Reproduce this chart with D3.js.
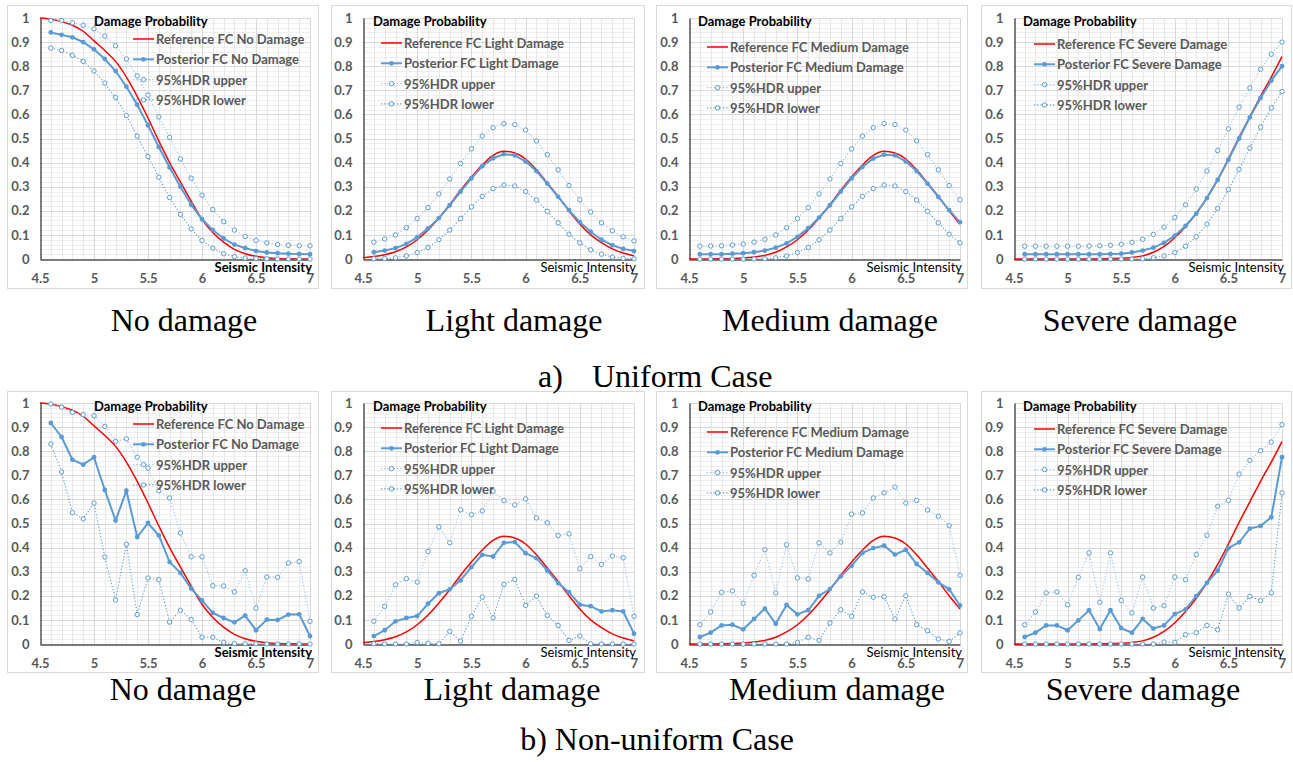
<!DOCTYPE html>
<html>
<head>
<meta charset="utf-8">
<script src="https://cdn.jsdelivr.net/npm/d3@7"></script>
<style>
  body { margin: 0; background: #fff; }
  svg { display: block; }
</style>
</head>
<body>
<svg id="chart" width="1293" height="762"></svg>
<script>
/* Data */
// x values of the posterior / HDR points
const intensity = [4.6, 4.7, 4.8, 4.9, 5.0, 5.1, 5.2, 5.3, 5.4, 5.5, 5.6, 5.7, 5.8, 5.9,
  6.0, 6.1, 6.2, 6.3, 6.4, 6.5, 6.6, 6.7, 6.8, 6.9, 7.0];
// x values of the reference fragility curves
const refIntensity = [4.5, 4.6, 4.7, 4.8, 4.9, 5.0, 5.1, 5.2, 5.3, 5.4, 5.5, 5.6, 5.7, 5.8, 5.9,
  6.0, 6.1, 6.2, 6.3, 6.4, 6.5, 6.6, 6.7, 6.8, 6.9, 7.0];
const xTicks = [4.5, 5, 5.5, 6, 6.5, 7];
const yTicks = [0, 0.1, 0.2, 0.3, 0.4, 0.5, 0.6, 0.7, 0.8, 0.9, 1];

// Reference FC (same in both cases)
const refNo = [1.0, 0.995, 0.985, 0.97, 0.945, 0.905, 0.865, 0.82, 0.755, 0.675, 0.585, 0.49, 0.40,
  0.32, 0.24, 0.165, 0.11, 0.07, 0.04, 0.022, 0.011, 0.005, 0.002, 0.001, 0, 0];
const refLight = [0.005, 0.01, 0.018, 0.03, 0.05, 0.08, 0.12, 0.17, 0.225, 0.285, 0.34, 0.39, 0.43,
  0.447, 0.44, 0.415, 0.37, 0.315, 0.26, 0.2, 0.145, 0.1, 0.068, 0.042, 0.025, 0.013];
const refMedium = [0, 0, 0, 0.001, 0.002, 0.004, 0.008, 0.015, 0.028, 0.05, 0.08, 0.12, 0.17,
  0.225, 0.285, 0.34, 0.39, 0.43, 0.447, 0.44, 0.415, 0.37, 0.315, 0.26, 0.2, 0.145];
const refSevere = [0, 0, 0, 0, 0, 0, 0, 0, 0.001, 0.002, 0.003, 0.006, 0.013, 0.028, 0.052,
  0.088, 0.135, 0.19, 0.255, 0.33, 0.415, 0.505, 0.59, 0.675, 0.755, 0.84];

// a) Uniform case
const postNoU = [0.94, 0.93, 0.92, 0.9, 0.87, 0.83, 0.78, 0.715, 0.64, 0.555, 0.465, 0.38, 0.3,
  0.225, 0.165, 0.12, 0.085, 0.06, 0.045, 0.033, 0.027, 0.024, 0.022, 0.021, 0.02];
const upperNoU = [0.99, 0.99, 0.98, 0.97, 0.955, 0.925, 0.885, 0.83, 0.76, 0.68, 0.59, 0.505, 0.415,
  0.335, 0.265, 0.205, 0.155, 0.12, 0.093, 0.077, 0.067, 0.06, 0.057, 0.055, 0.055];
const lowerNoU = [0.875, 0.865, 0.845, 0.82, 0.78, 0.73, 0.67, 0.595, 0.51, 0.425, 0.34, 0.255, 0.185,
  0.125, 0.077, 0.045, 0.022, 0.01, 0.004, 0.002, 0.001, 0, 0, 0, 0];

const postLightU = [0.028, 0.035, 0.045, 0.063, 0.09, 0.127, 0.17, 0.223, 0.28, 0.335, 0.385, 0.418,
  0.435, 0.43, 0.405, 0.365, 0.313, 0.258, 0.203, 0.153, 0.113, 0.08, 0.057, 0.042, 0.033];
const upperLightU = [0.07, 0.083, 0.1, 0.13, 0.168, 0.213, 0.27, 0.332, 0.396, 0.457, 0.51, 0.545,
  0.562, 0.558, 0.535, 0.49, 0.433, 0.37, 0.305, 0.246, 0.195, 0.15, 0.117, 0.092, 0.075];
const lowerLightU = [0.001, 0.002, 0.005, 0.013, 0.027, 0.048, 0.08, 0.12, 0.168, 0.216, 0.26, 0.292,
  0.307, 0.303, 0.28, 0.245, 0.198, 0.15, 0.103, 0.067, 0.038, 0.02, 0.008, 0.003, 0.001];

const postMedU = [0.02, 0.02, 0.02, 0.022, 0.024, 0.028, 0.035, 0.047, 0.065, 0.092, 0.128, 0.172,
  0.223, 0.28, 0.335, 0.382, 0.417, 0.433, 0.43, 0.405, 0.365, 0.313, 0.258, 0.203, 0.153];
const upperMedU = [0.053, 0.054, 0.055, 0.058, 0.062, 0.07, 0.082, 0.1, 0.13, 0.168, 0.213, 0.27,
  0.332, 0.396, 0.457, 0.51, 0.545, 0.562, 0.558, 0.535, 0.49, 0.433, 0.37, 0.305, 0.246];
const lowerMedU = [0, 0, 0, 0, 0, 0, 0.001, 0.005, 0.013, 0.027, 0.048, 0.08, 0.12, 0.168, 0.216,
  0.26, 0.292, 0.307, 0.303, 0.28, 0.245, 0.198, 0.15, 0.103, 0.067];

const postSevU = [0.02, 0.02, 0.02, 0.02, 0.02, 0.02, 0.02, 0.02, 0.021, 0.022, 0.027, 0.035, 0.047,
  0.067, 0.097, 0.137, 0.188, 0.253, 0.328, 0.412, 0.5, 0.588, 0.668, 0.74, 0.8];
const upperSevU = [0.053, 0.053, 0.053, 0.053, 0.053, 0.053, 0.054, 0.055, 0.057, 0.061, 0.069, 0.082,
  0.102, 0.132, 0.172, 0.225, 0.29, 0.365, 0.45, 0.54, 0.63, 0.71, 0.787, 0.85, 0.9];
const lowerSevU = [0, 0, 0, 0, 0, 0, 0, 0, 0, 0, 0, 0.001, 0.005, 0.013, 0.027, 0.053, 0.092, 0.145,
  0.21, 0.288, 0.372, 0.46, 0.547, 0.627, 0.695];

// b) Non-uniform case
const postNoN = [0.917, 0.859, 0.765, 0.744, 0.775, 0.639, 0.512, 0.636, 0.444, 0.502, 0.451, 0.34,
  0.295, 0.23, 0.181, 0.129, 0.108, 0.09, 0.118, 0.057, 0.101, 0.1, 0.122, 0.123, 0.033];
const upperNoN = [0.996, 0.983, 0.961, 0.952, 0.947, 0.903, 0.841, 0.851, 0.775, 0.73, 0.636, 0.606,
  0.461, 0.362, 0.362, 0.242, 0.241, 0.216, 0.304, 0.149, 0.278, 0.277, 0.336, 0.342, 0.094];
const lowerNoN = [0.83, 0.714, 0.545, 0.519, 0.585, 0.361, 0.183, 0.414, 0.122, 0.274, 0.267, 0.091,
  0.14, 0.102, 0.028, 0.028, 0.007, 0.002, 0.001, 0.001, 0, 0, 0, 0, 0];

const postLightN = [0.033, 0.057, 0.094, 0.108, 0.116, 0.167, 0.211, 0.227, 0.264, 0.319, 0.37, 0.363,
  0.42, 0.423, 0.377, 0.356, 0.305, 0.253, 0.215, 0.163, 0.157, 0.135, 0.14, 0.135, 0.043];
const upperLightN = [0.094, 0.156, 0.246, 0.271, 0.257, 0.384, 0.486, 0.42, 0.557, 0.537, 0.552, 0.634,
  0.595, 0.577, 0.602, 0.523, 0.503, 0.45, 0.457, 0.312, 0.363, 0.33, 0.365, 0.358, 0.115];
const lowerLightN = [0.001, 0, 0, 0, 0.006, 0.003, 0.001, 0.052, 0.012, 0.115, 0.195, 0.109, 0.247,
  0.268, 0.16, 0.199, 0.119, 0.077, 0.015, 0.033, 0.001, 0, 0, 0, 0];

const postMedN = [0.029, 0.047, 0.077, 0.08, 0.061, 0.104, 0.147, 0.084, 0.162, 0.123, 0.14, 0.2,
  0.228, 0.281, 0.324, 0.378, 0.398, 0.408, 0.371, 0.391, 0.332, 0.295, 0.256, 0.227, 0.16];
const upperMedN = [0.08, 0.133, 0.214, 0.22, 0.169, 0.285, 0.391, 0.212, 0.412, 0.274, 0.27, 0.42,
  0.378, 0.423, 0.539, 0.544, 0.606, 0.627, 0.651, 0.585, 0.596, 0.556, 0.53, 0.491, 0.285];
const lowerMedN = [0, 0, 0, 0, 0, 0, 0, 0, 0, 0.007, 0.028, 0.015, 0.087, 0.142, 0.115, 0.216, 0.194,
  0.196, 0.104, 0.2, 0.08, 0.055, 0.021, 0.011, 0.046];

const postSevN = [0.029, 0.047, 0.077, 0.077, 0.057, 0.098, 0.14, 0.062, 0.14, 0.066, 0.047, 0.104,
  0.064, 0.077, 0.124, 0.144, 0.199, 0.254, 0.304, 0.398, 0.422, 0.479, 0.49, 0.526, 0.775];
const upperSevN = [0.08, 0.133, 0.212, 0.216, 0.163, 0.277, 0.378, 0.173, 0.378, 0.181, 0.129, 0.278,
  0.149, 0.159, 0.278, 0.267, 0.371, 0.451, 0.571, 0.596, 0.705, 0.762, 0.802, 0.838, 0.91];
const lowerSevN = [0, 0, 0, 0, 0, 0, 0, 0, 0, 0, 0, 0, 0, 0.008, 0.007, 0.039, 0.047, 0.077, 0.059,
  0.207, 0.149, 0.198, 0.18, 0.212, 0.627];

const damageNames = ["No Damage", "Light Damage", "Medium Damage", "Severe Damage"];
const captions = ["No damage", "Light damage", "Medium damage", "Severe damage"];

/* Layout */
const rows = [
  { frameTop: 5, frameBottom: 288, plotTop: 18, plotBottom: 259, captionY: 331,
    caseLabel: ["a)", "Uniform Case"], caseY: 387 },
  { frameTop: 391, frameBottom: 672, plotTop: 403, plotBottom: 644, captionY: 700,
    caseLabel: ["b)", "Non-uniform Case"], caseY: 750 }
];
const cols = [
  { frame: [7, 318], plot: [40, 310], titleDx: 54, legendDx: 93 },
  { frame: [331, 644], plot: [363, 634], titleDx: 10, legendDx: 18 },
  { frame: [656, 967], plot: [689, 960], titleDx: 9, legendDx: 18 },
  { frame: [981, 1291], plot: [1014, 1282], titleDx: 9, legendDx: 20 }
];
const legendDy = [21, 25, 29, 26];
const captionX = [[184, 514, 830, 1140], [183, 512, 837, 1143]];

const panels = [
  { row: 0, col: 0, ref: refNo, post: postNoU, upper: upperNoU, lower: lowerNoU, boldX: true },
  { row: 0, col: 1, ref: refLight, post: postLightU, upper: upperLightU, lower: lowerLightU },
  { row: 0, col: 2, ref: refMedium, post: postMedU, upper: upperMedU, lower: lowerMedU },
  { row: 0, col: 3, ref: refSevere, post: postSevU, upper: upperSevU, lower: lowerSevU },
  { row: 1, col: 0, ref: refNo, post: postNoN, upper: upperNoN, lower: lowerNoN, boldX: true },
  { row: 1, col: 1, ref: refLight, post: postLightN, upper: upperLightN, lower: lowerLightN },
  { row: 1, col: 2, ref: refMedium, post: postMedN, upper: upperMedN, lower: lowerMedN },
  { row: 1, col: 3, ref: refSevere, post: postSevN, upper: upperSevN, lower: lowerSevN }
];

const blue = "#5b9bd5";
const lightBlue = "#9dc3e6";
const red = "#ff0000";
const font = "Lato, 'Open Sans', sans-serif";
const serif = "'Liberation Serif', 'Times New Roman', serif";
const fs = "13px";

const svg = d3.select("#chart");

panels.forEach(p => {
  const r = rows[p.row], c = cols[p.col];

  const x = d3.scaleLinear().domain([4.5, 7]).range(c.plot);
  const y = d3.scaleLinear().domain([0, 1]).range([r.plotBottom, r.plotTop]);

  const g = svg.append("g");

  // frame
  g.append("rect")
    .attr("x", c.frame[0] + 0.5).attr("y", r.frameTop + 0.5)
    .attr("width", c.frame[1] - c.frame[0]).attr("height", r.frameBottom - r.frameTop)
    .attr("fill", "#fff").attr("stroke", "#d9d9d9");

  // gridlines: minor then major
  const xMinor = d3.range(46, 71).map(d => d / 10);
  const yMinor = y.ticks(50);
  g.append("g").selectAll("line").data(yMinor).join("line")
    .attr("x1", c.plot[0]).attr("x2", c.plot[1])
    .attr("y1", d => Math.round(y(d)) + 0.5).attr("y2", d => Math.round(y(d)) + 0.5)
    .attr("stroke", "#f0f0f0");
  g.append("g").selectAll("line").data(xMinor).join("line")
    .attr("x1", d => Math.round(x(d)) + 0.5).attr("x2", d => Math.round(x(d)) + 0.5)
    .attr("y1", r.plotTop).attr("y2", r.plotBottom)
    .attr("stroke", "#e8e8e8");
  g.append("g").selectAll("line").data(yTicks.slice(1)).join("line")
    .attr("x1", c.plot[0]).attr("x2", c.plot[1])
    .attr("y1", d => Math.round(y(d)) + 0.5).attr("y2", d => Math.round(y(d)) + 0.5)
    .attr("stroke", "#d9d9d9");
  g.append("g").selectAll("line").data(xTicks.slice(1)).join("line")
    .attr("x1", d => Math.round(x(d)) + 0.5).attr("x2", d => Math.round(x(d)) + 0.5)
    .attr("y1", r.plotTop).attr("y2", r.plotBottom)
    .attr("stroke", "#d9d9d9");

  // axes
  const yAxis = g.append("g")
    .attr("transform", `translate(${c.plot[0] + 0.5},0)`)
    .call(d3.axisLeft(y).tickValues(yTicks).tickSize(0).tickPadding(11)
      .tickFormat(d => String(+d.toFixed(1))));
  const xAxis = g.append("g")
    .attr("transform", `translate(0,${r.plotBottom + 0.5})`)
    .call(d3.axisBottom(x).tickValues(xTicks).tickSize(0).tickPadding(14)
      .tickFormat(d => String(d)));
  [xAxis, yAxis].forEach(a => {
    a.select(".domain").attr("stroke", "#000");
    a.selectAll("text").attr("fill", "#595959")
      .style("font-family", font).style("font-size", fs).style("font-weight", "bold");
  });

  // series
  const refLine = d3.line().x((d, i) => x(refIntensity[i])).y(d => y(d)).curve(d3.curveMonotoneX);
  const ptLine = d3.line().x((d, i) => x(intensity[i])).y(d => y(d));

  g.append("path").datum(p.ref).attr("d", refLine)
    .attr("fill", "none").attr("stroke", red).attr("stroke-width", 1.5);

  [[p.upper, lightBlue], [p.lower, blue]].forEach(([vals, col]) => {
    g.append("path").datum(vals).attr("d", ptLine)
      .attr("fill", "none").attr("stroke", col).attr("stroke-width", 1.1)
      .attr("stroke-dasharray", "1.2,2");
    g.append("g").selectAll("circle").data(vals).join("circle")
      .attr("cx", (d, i) => x(intensity[i])).attr("cy", d => y(d)).attr("r", 2.2)
      .attr("fill", "#fff").attr("stroke", blue).attr("stroke-width", 1);
  });

  g.append("path").datum(p.post).attr("d", ptLine)
    .attr("fill", "none").attr("stroke", blue).attr("stroke-width", 2);
  g.append("g").selectAll("circle").data(p.post).join("circle")
    .attr("cx", (d, i) => x(intensity[i])).attr("cy", d => y(d)).attr("r", 2.4)
    .attr("fill", blue);

  // axis titles
  g.append("text")
    .attr("x", c.plot[0] + c.titleDx).attr("y", r.plotTop + 3)
    .attr("dominant-baseline", "central")
    .style("font-family", font).style("font-size", fs).style("font-weight", "bold")
    .attr("fill", "#000").text("Damage Probability");
  g.append("text")
    .attr("x", c.plot[1] + 2).attr("y", r.plotBottom + 8)
    .attr("text-anchor", "end").attr("dominant-baseline", "central")
    .style("font-family", font).style("font-size", fs)
    .style("font-weight", p.boldX ? "bold" : "normal")
    .attr("fill", "#000").text("Seismic Intensity");

  // legend
  const name = damageNames[p.col];
  const entries = [
    { label: `Reference FC ${name}`, type: "ref" },
    { label: `Posterior FC ${name}`, type: "post" },
    { label: "95%HDR upper", type: "upper" },
    { label: "95%HDR lower", type: "lower" }
  ];
  const lx = c.plot[0] + c.legendDx;
  const lg = g.append("g");
  entries.forEach((e, i) => {
    const ly = r.plotTop + legendDy[p.col] + i * 20.3;
    const ln = lg.append("line").attr("x1", lx).attr("x2", lx + 21).attr("y1", ly).attr("y2", ly);
    if (e.type === "ref") {
      ln.attr("stroke", red).attr("stroke-width", 1.5);
    } else if (e.type === "post") {
      ln.attr("stroke", blue).attr("stroke-width", 2);
      lg.append("circle").attr("cx", lx + 10.5).attr("cy", ly).attr("r", 2.4).attr("fill", blue);
    } else {
      ln.attr("stroke", e.type === "upper" ? lightBlue : blue).attr("stroke-width", 1.1)
        .attr("stroke-dasharray", "1.2,2");
      lg.append("circle").attr("cx", lx + 10.5).attr("cy", ly).attr("r", 2.2)
        .attr("fill", "#fff").attr("stroke", blue);
    }
    lg.append("text").attr("x", lx + 23).attr("y", ly).attr("dominant-baseline", "central")
      .style("font-family", font).style("font-size", fs).style("font-weight", "bold")
      .attr("fill", "#595959").text(e.label);
  });

  // caption under the panel
  svg.append("text")
    .attr("x", captionX[p.row][p.col]).attr("y", r.captionY)
    .attr("text-anchor", "middle")
    .style("font-family", serif).style("font-size", "32px")
    .attr("fill", "#000").text(captions[p.col]);
});

// case labels
svg.append("text").attr("x", 538).attr("y", rows[0].caseY)
  .style("font-family", serif).style("font-size", "32px").text(rows[0].caseLabel[0]);
svg.append("text").attr("x", 592).attr("y", rows[0].caseY)
  .style("font-family", serif).style("font-size", "32px").text(rows[0].caseLabel[1]);
svg.append("text").attr("x", 657).attr("y", rows[1].caseY).attr("text-anchor", "middle")
  .style("font-family", serif).style("font-size", "32px")
  .text(rows[1].caseLabel.join(" "));
</script>
</body>
</html>
